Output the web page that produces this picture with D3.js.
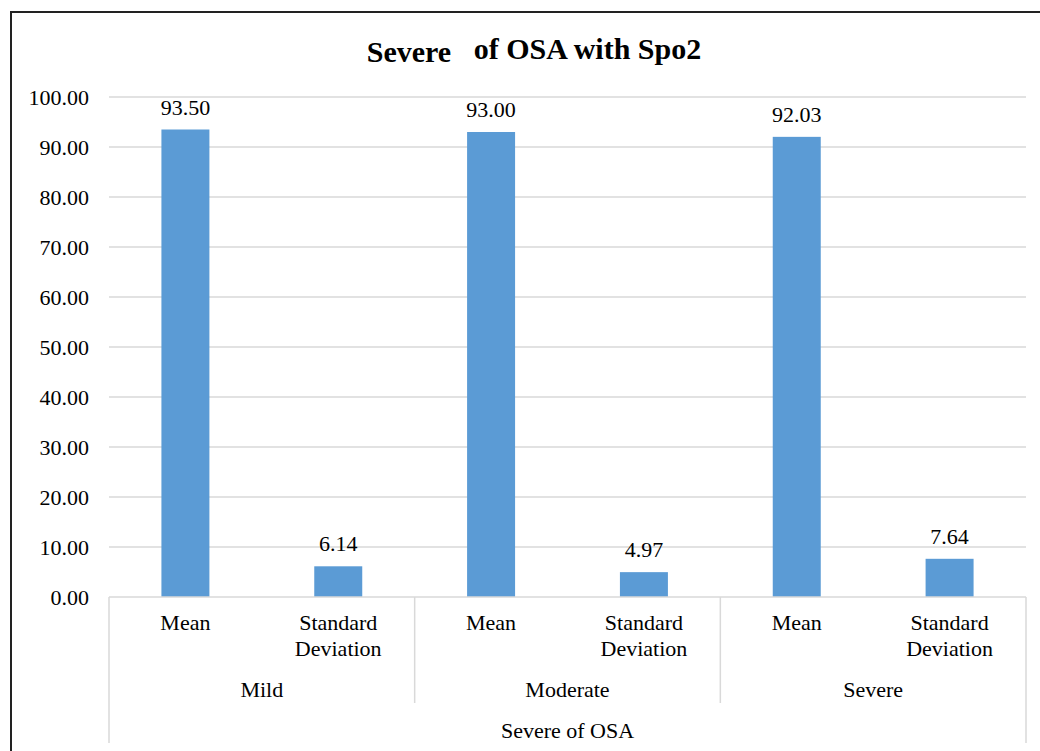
<!DOCTYPE html>
<html>
<head>
<meta charset="utf-8">
<script src="https://cdn.jsdelivr.net/npm/d3@7"></script>
<style>
  html, body { margin: 0; padding: 0; background: #fff; }
  svg { display: block; }
</style>
</head>
<body>
<script>
// data
const groups = ["Mild", "Moderate", "Severe"];
const measures = ["Mean", "Standard Deviation"];
const values = [93.50, 6.14, 93.00, 4.97, 92.03, 7.64];
const yTicks = [0, 10, 20, 30, 40, 50, 60, 70, 80, 90, 100];
const axisTitle = "Severe of OSA";

const width = 1040, height = 751;
const margin = { left: 109, right: 14, top: 97, bottom: 154 };
const serif = "'Liberation Serif', 'Times New Roman', Times, 'DejaVu Serif', serif";
const fs = 22;

const svg = d3.select("body").append("svg")
  .attr("width", width)
  .attr("height", height)
  .attr("font-family", serif)
  .style("font-family", serif);

// outer frame (only top + left edges visible)
svg.append("path")
  .attr("d", `M11,${height} V12 H${width}`)
  .attr("fill", "none")
  .attr("stroke", "#222")
  .attr("stroke-width", 2);

// title
const title = svg.append("text")
  .attr("x", 534)
  .attr("y", 59)
  .attr("text-anchor", "middle")
  .attr("font-weight", "bold")
  .attr("font-size", 30)
  .attr("fill", "#000");
title.append("tspan").attr("dy", 3).text("Severe");
title.append("tspan").attr("dy", -3).attr("xml:space", "preserve").text("   of OSA with Spo2");

// build rows
const rows = [];
groups.forEach((g, gi) => {
  measures.forEach((m, mi) => {
    rows.push({ group: g, measure: m, key: g + "|" + m, value: values[gi * measures.length + mi] });
  });
});

const x = d3.scaleBand()
  .domain(rows.map(d => d.key))
  .range([margin.left, width - margin.right])
  .paddingInner(0.686)
  .paddingOuter(0.343);

const xBand = d3.scaleBand()
  .domain(rows.map(d => d.key))
  .range([margin.left, width - margin.right]);

const xGroup = d3.scaleBand()
  .domain(groups)
  .range([margin.left, width - margin.right]);

const y = d3.scaleLinear()
  .domain([0, 100])
  .range([height - margin.bottom, margin.top]);

// gridlines
svg.append("g")
  .selectAll("line")
  .data(yTicks.filter(t => t > 0))
  .join("line")
  .attr("x1", margin.left)
  .attr("x2", width - margin.right)
  .attr("y1", d => y(d))
  .attr("y2", d => y(d))
  .attr("stroke", "#d9d9d9")
  .attr("stroke-width", 1.5);

// y axis labels
svg.append("g")
  .selectAll("text")
  .data(yTicks)
  .join("text")
  .attr("x", 89)
  .attr("y", d => y(d))
  .attr("dy", "0.35em")
  .attr("text-anchor", "end")
  .attr("font-size", fs)
  .attr("fill", "#000")
  .text(d => d3.format(".2f")(d));

// bars
svg.append("g")
  .selectAll("rect")
  .data(rows)
  .join("rect")
  .attr("x", d => x(d.key))
  .attr("width", x.bandwidth())
  .attr("y", d => y(d.value))
  .attr("height", d => y(0) - y(d.value))
  .attr("fill", "#5b9bd5");

// value labels
svg.append("g")
  .selectAll("text")
  .data(rows)
  .join("text")
  .attr("x", d => x(d.key) + x.bandwidth() / 2)
  .attr("y", d => y(d.value) - 15)
  .attr("text-anchor", "middle")
  .attr("font-size", fs)
  .attr("fill", "#000")
  .text(d => d3.format(".2f")(d.value));

// x axis lines
const axisG = svg.append("g")
  .attr("stroke", "#d9d9d9")
  .attr("stroke-width", 1.5);
axisG.append("line")
  .attr("x1", margin.left).attr("x2", width - margin.right)
  .attr("y1", y(0)).attr("y2", y(0));
// outer verticals
[margin.left, width - margin.right].forEach(xx => {
  axisG.append("line")
    .attr("x1", xx).attr("x2", xx)
    .attr("y1", y(0)).attr("y2", 743);
});
// group separators
groups.slice(1).forEach(g => {
  axisG.append("line")
    .attr("x1", xGroup(g)).attr("x2", xGroup(g))
    .attr("y1", y(0)).attr("y2", 703);
});

// category labels
const catG = svg.append("g")
  .attr("font-size", fs)
  .attr("fill", "#000")
  .attr("text-anchor", "middle");
rows.forEach(d => {
  const cx = xBand(d.key) + xBand.bandwidth() / 2;
  const words = d.measure.split(" ");
  words.forEach((w, i) => {
    catG.append("text")
      .attr("x", cx)
      .attr("y", 630 + i * 26)
      .text(w);
  });
});

// group labels
svg.append("g")
  .selectAll("text")
  .data(groups)
  .join("text")
  .attr("x", d => xGroup(d) + xGroup.bandwidth() / 2)
  .attr("y", 697)
  .attr("text-anchor", "middle")
  .attr("font-size", fs)
  .attr("fill", "#000")
  .text(d => d);

// axis title
svg.append("text")
  .attr("x", (margin.left + width - margin.right) / 2)
  .attr("y", 738)
  .attr("text-anchor", "middle")
  .attr("font-size", fs)
  .attr("fill", "#000")
  .text(axisTitle);
</script>
</body>
</html>
